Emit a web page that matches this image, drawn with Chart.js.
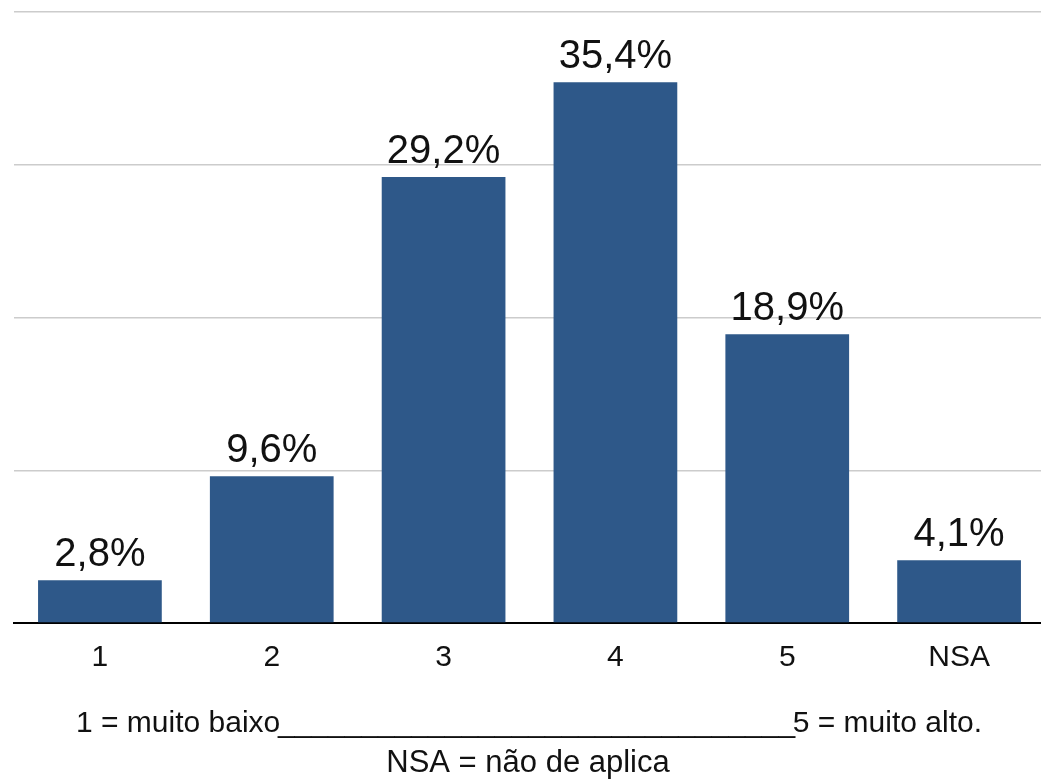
<!DOCTYPE html>
<html>
<head>
<meta charset="utf-8">
<script src="https://cdn.jsdelivr.net/npm/chart.js@4"></script>
<style>
  body { margin: 0; background: #fff; overflow: hidden; }
  #wrap { position: relative; width: 1045px; height: 780px; }
</style>
</head>
<body>
<div id="wrap"><canvas id="barChart"></canvas></div>
<script>
// categories and values (percent)
const categories = ["1", "2", "3", "4", "5", "NSA"];
const shares = [2.8, 9.6, 29.2, 35.4, 18.9, 4.1];
const yTicks = [0, 10, 20, 30, 40];
const noteLeft = "1 = muito baixo";
const noteRight = "5 = muito alto.";
const noteSecond = "NSA = não de aplica";

const fontFamily = "'Liberation Sans', Arial, sans-serif";

// draws the value labels above the bars and the footnote under the axis
const labelsPlugin = {
	id: 'labels',
	afterDatasetsDraw(chart) {
		const ctx = chart.ctx;
		const meta = chart.getDatasetMeta(0);
		ctx.save();
		ctx.fillStyle = '#111';
		ctx.font = '40px ' + fontFamily;
		ctx.textAlign = 'center';
		ctx.textBaseline = 'alphabetic';
		meta.data.forEach((bar, i) => {
			ctx.fillText(shares[i].toFixed(1).replace('.', ',') + '%', bar.x, bar.y - 14);
		});

		// footnote
		ctx.font = '30px ' + fontFamily;
		ctx.textBaseline = 'middle';
		const leftX = 76, rightX = 982, lineY = 724;
		ctx.textAlign = 'left';
		ctx.fillText(noteLeft, leftX, lineY);
		const lw = ctx.measureText(noteLeft).width;
		ctx.textAlign = 'right';
		ctx.fillText(noteRight, rightX, lineY);
		const rw = ctx.measureText(noteRight).width;
		const gap = rightX - rw - (leftX + lw);
		const n = Math.round(gap / ctx.measureText('_').width);
		ctx.textAlign = 'center';
		ctx.fillText('_'.repeat(n), (leftX + lw + rightX - rw) / 2, lineY);

		ctx.font = '31px ' + fontFamily;
		ctx.fillText(noteSecond, 528, 763);
		ctx.restore();
	}
};

new Chart(document.getElementById('barChart'), {
	type: 'bar',
	data: {
		labels: categories,
		datasets: [{
			data: shares,
			backgroundColor: '#2E5889',
			barPercentage: 0.72,
			categoryPercentage: 1
		}]
	},
	options: {
		responsive: true,
		maintainAspectRatio: false,
		animation: false,
		layout: { padding: { left: 14, top: 12, right: 0, bottom: 0 } },
		plugins: {
			legend: { display: false },
			tooltip: { enabled: false }
		},
		scales: {
			x: {
				grid: { display: false, drawTicks: false },
				border: { display: true, color: '#000', width: 2 },
				ticks: {
					color: '#111',
					font: { size: 30, family: fontFamily },
					padding: 17
				},
				afterFit(scale) { scale.height = 157; }
			},
			y: {
				min: 0,
				max: 40,
				afterBuildTicks(scale) { scale.ticks = yTicks.map(v => ({ value: v })); },
				ticks: { display: false },
				grid: { color: '#cccccc', lineWidth: 1.5, drawTicks: false },
				border: { display: false },
				afterFit(scale) { scale.width = 0; }
			}
		}
	},
	plugins: [labelsPlugin]
});
</script>
</body>
</html>
